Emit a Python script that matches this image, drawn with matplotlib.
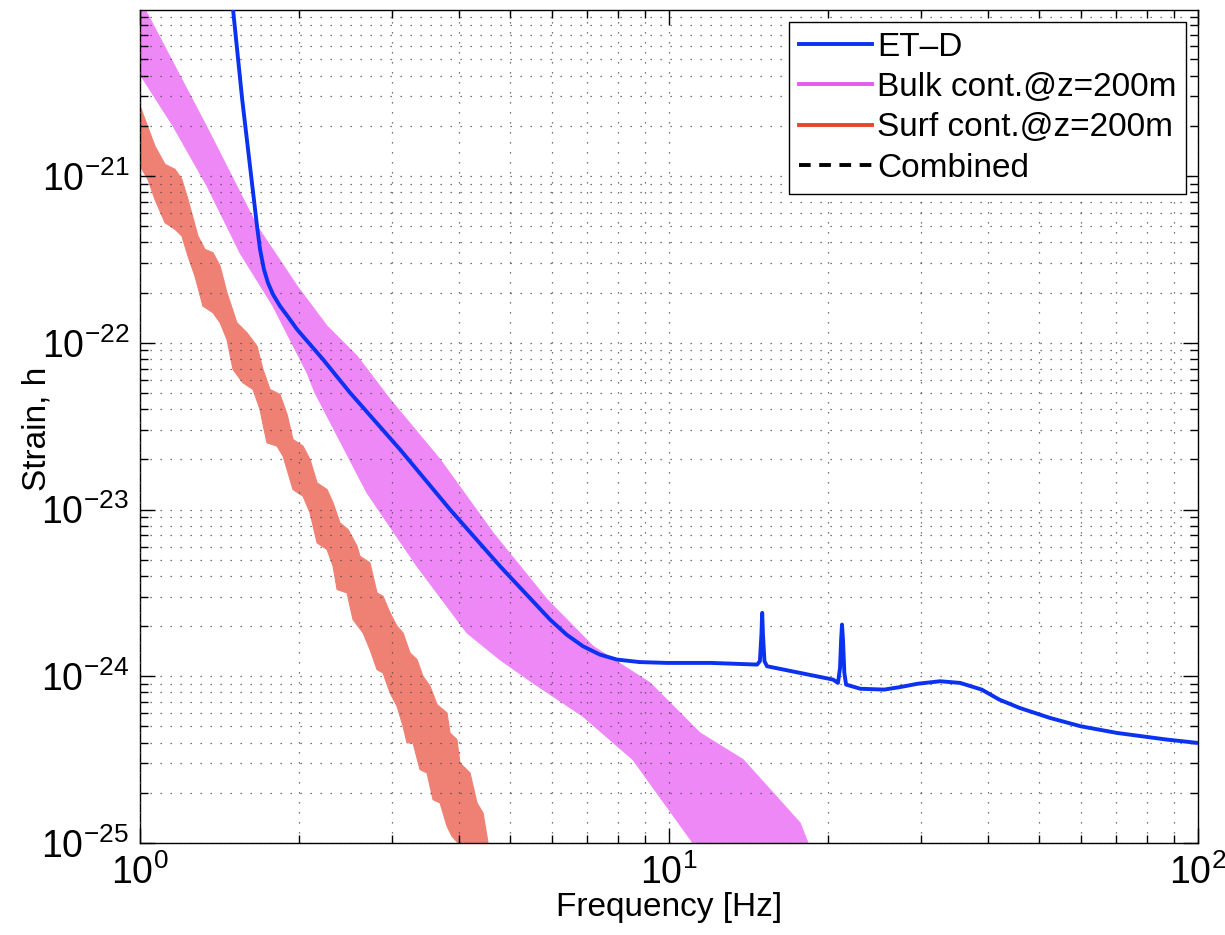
import numpy as np
import matplotlib
matplotlib.use("Agg")
import matplotlib.pyplot as plt

plt.rcParams["font.family"] = ["Liberation Sans", "DejaVu Sans"]
plt.rcParams["mathtext.fontset"] = "custom"
plt.rcParams["mathtext.rm"] = "Liberation Sans"
plt.rcParams["mathtext.it"] = "Liberation Sans:italic"
plt.rcParams["mathtext.bf"] = "Liberation Sans:bold"

# ── ET-D sensitivity (frequency [Hz], log10 strain) ──
etd_f = [1.48, 1.499, 1.56, 1.664, 1.686, 1.715, 1.745, 1.784, 1.839, 1.90,
         1.981, 2.218, 2.495, 3.101, 3.855, 4.792, 5.958, 6.40, 6.875, 7.40,
         7.973, 8.80, 9.913, 12.0, 14.67, 14.85, 14.95, 15.0, 15.05, 15.15,
         15.32, 17.69, 20.42, 20.86, 21.05, 21.15, 21.23, 21.32, 21.45, 21.61,
         23.0, 25.5, 27.33, 29.5, 32.53, 35.5, 39.0, 42.1, 46.0, 52.5,
         60.0, 70.29, 87.40, 100.0]
etd_log_h = [-19.90, -20.00, -20.54, -21.30, -21.44, -21.56, -21.64, -21.71, -21.78, -21.84,
             -21.92, -22.10, -22.30, -22.64, -23.00, -23.34, -23.66, -23.75, -23.82, -23.87,
             -23.90, -23.915, -23.92, -23.92, -23.93, -23.91, -23.75, -23.62, -23.75, -23.91,
             -23.94, -23.98, -24.02, -24.04, -23.95, -23.78, -23.69, -23.78, -23.98, -24.05,
             -24.075, -24.08, -24.065, -24.045, -24.03, -24.04, -24.08, -24.14, -24.19, -24.25,
             -24.30, -24.34, -24.38, -24.40]

# ── Bulk contribution band @ z=200m ──
bulk_hi_f = [1.0, 1.022, 1.339, 1.664, 1.981, 2.257, 2.572, 2.969, 3.691, 4.648,
             5.881, 7.181, 9.208, 11.44, 13.80, 15.73, 17.69, 18.31, 18.6]
bulk_hi_log_h = [-19.96, -20.00, -20.71, -21.30, -21.66, -21.90, -22.08, -22.34, -22.70, -23.14,
                 -23.54, -23.82, -24.04, -24.34, -24.50, -24.70, -24.88, -25.00, -25.10]
bulk_lo_f = [1.0, 1.155, 1.339, 1.545, 1.784, 2.069, 2.142, 2.686, 3.339, 4.151,
             4.79, 5.533, 6.875, 8.549, 11.10, 11.4]
bulk_lo_log_h = [-20.39, -20.70, -21.06, -21.46, -21.78, -22.18, -22.30, -22.90, -23.34, -23.74,
                 -23.90, -24.04, -24.24, -24.50, -25.00, -25.10]

# ── Surface contribution band @ z=200m ──
surf_hi_f = [1.0, 1.067, 1.115, 1.165, 1.200, 1.232, 1.287, 1.327, 1.374, 1.417,
             1.460, 1.525, 1.593, 1.664, 1.708, 1.761, 1.839, 1.897, 1.946, 2.033,
             2.096, 2.161, 2.257, 2.317, 2.388, 2.473, 2.572, 2.605, 2.721, 2.806,
             2.880, 2.969, 3.061, 3.142, 3.239, 3.339, 3.427, 3.534, 3.643, 3.805,
             3.855, 3.973, 4.026, 4.206, 4.336, 4.451, 4.549, 4.6]
surf_hi_log_h = [-20.58, -20.82, -20.93, -20.96, -21.02, -21.14, -21.36, -21.44, -21.46, -21.54,
                 -21.70, -21.88, -21.94, -22.02, -22.16, -22.28, -22.31, -22.43, -22.58, -22.62,
                 -22.70, -22.84, -22.88, -22.96, -23.08, -23.12, -23.22, -23.28, -23.32, -23.50,
                 -23.52, -23.62, -23.70, -23.74, -23.86, -23.90, -24.00, -24.06, -24.17, -24.22,
                 -24.34, -24.38, -24.52, -24.58, -24.76, -24.82, -25.00, -25.10]
surf_lo_f = [1.0, 1.035, 1.067, 1.115, 1.165, 1.200, 1.232, 1.270, 1.315, 1.374,
             1.417, 1.460, 1.499, 1.565, 1.635, 1.686, 1.708, 1.738, 1.815, 1.864,
             1.946, 2.033, 2.096, 2.161, 2.257, 2.317, 2.358, 2.462, 2.527, 2.640,
             2.721, 2.806, 2.880, 2.969, 3.061, 3.142, 3.197, 3.281, 3.383, 3.487,
             3.580, 3.691, 3.805, 3.889, 3.991, 4.03]
surf_lo_log_h = [-20.94, -21.02, -21.14, -21.28, -21.32, -21.36, -21.48, -21.60, -21.78, -21.82,
                 -21.88, -21.98, -22.16, -22.24, -22.28, -22.40, -22.49, -22.60, -22.62, -22.68,
                 -22.88, -22.92, -23.02, -23.20, -23.24, -23.34, -23.48, -23.50, -23.66, -23.74,
                 -23.84, -23.96, -23.98, -24.10, -24.18, -24.30, -24.40, -24.40, -24.56, -24.58,
                 -24.74, -24.76, -24.90, -24.96, -25.00, -25.10]

legend_labels = ["ET\u2013D", "Bulk cont.@z=200m", "Surf cont.@z=200m", "Combined"]

C_ETD = "#0A32F0"
C_BULK_LINE, C_BULK_FILL = "#E45CEE", "#EE88F6"
C_SURF_LINE, C_SURF_FILL = "#E8442E", "#EF8074"


def band(ax, f_hi, lh_hi, f_lo, lh_lo, color):
    fx = np.r_[f_hi, f_lo[::-1]]
    hy = 10.0 ** np.r_[lh_hi, lh_lo[::-1]]
    ax.fill(fx, hy, facecolor=color, edgecolor=color, lw=0.8, joinstyle="round", zorder=1)


fig = plt.figure(figsize=(12.25, 9.35), dpi=100)
ax = fig.add_axes([0.1143, 0.0984, 0.8637, 0.8909])

band(ax, bulk_hi_f, bulk_hi_log_h, bulk_lo_f, bulk_lo_log_h, C_BULK_FILL)
band(ax, surf_hi_f, surf_hi_log_h, surf_lo_f, surf_lo_log_h, C_SURF_FILL)
ax.plot(etd_f, 10.0 ** np.array(etd_log_h), color=C_ETD, lw=2.8, zorder=3,
        solid_joinstyle="round")

# legend handles (Combined has no curve in this figure)
h1, = ax.plot([], [], color=C_ETD, lw=2.8)
h2, = ax.plot([], [], color=C_BULK_LINE, lw=2.8)
h3, = ax.plot([], [], color=C_SURF_LINE, lw=2.8)
h4, = ax.plot([], [], color="k", lw=2.8, ls=(0, (3, 2.2)))

ax.set_xscale("log")
ax.set_yscale("log")
ax.set_xlim(1, 100)
ax.set_ylim(1e-25, 9.9e-21)
ax.set_yticks([1e-25, 1e-24, 1e-23, 1e-22, 1e-21])

ax.grid(True, which="both", color="0.3", ls=(0, (1, 7)), lw=0.9)
ax.set_axisbelow(False)
ax.tick_params(which="both", direction="in", top=True, right=True, width=1.0)
ax.tick_params(which="major", length=11, labelsize=27, pad=8)
ax.tick_params(which="minor", length=5.5)
for s in ax.spines.values():
    s.set_linewidth(1.0)

ax.set_xlabel("Frequency [Hz]", fontsize=24, labelpad=0)
ax.set_ylabel("Strain, h", fontsize=24)
ax.yaxis.set_label_coords(-0.083, 0.497)

leg = ax.legend([h1, h2, h3, h4], legend_labels, loc="upper right", fontsize=24,
                frameon=True, fancybox=False, framealpha=1, edgecolor="k",
                handlelength=2.2, handletextpad=0.15, borderaxespad=0.35,
                labelspacing=0.28, borderpad=0.3)
leg.get_frame().set_linewidth(1.0)

fig.savefig("out.png", dpi=100)
